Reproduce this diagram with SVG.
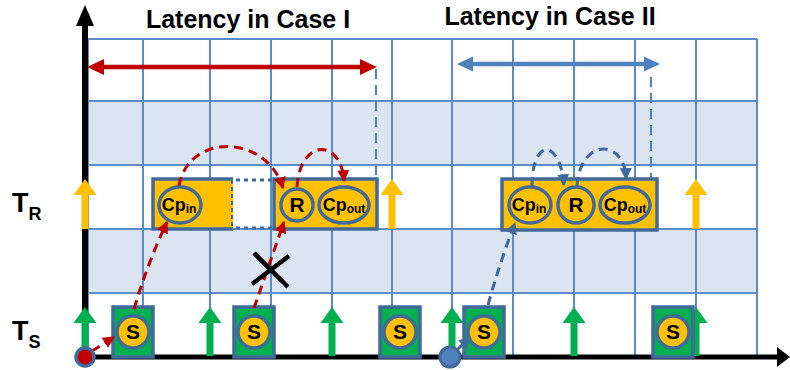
<svg xmlns="http://www.w3.org/2000/svg" width="790" height="370" viewBox="0 0 790 370">
<style>
text{font-family:"Liberation Sans",Arial,sans-serif;font-weight:bold;fill:#000}
.grid{stroke:#5b8bc8;stroke-width:2;fill:none}
.shade{fill:#dbe4f1}
.blk{fill:#ffc000;stroke:#41699a;stroke-width:3.5}
.node{fill:#ffc000;stroke:#41699a;stroke-width:3.5}
.sbox{fill:#00b050;stroke:#41699a;stroke-width:3.5}
.red{fill:none;stroke:#c00000;stroke-width:3;stroke-dasharray:9 6}
.blue{fill:none;stroke:#41699a;stroke-width:3;stroke-dasharray:9 6}
.vdash{fill:none;stroke:#4f81bd;stroke-width:2;stroke-dasharray:10 6}
.lbl{font-size:18px}
.sub{font-size:12px}
.title{font-size:25px}
.big{font-size:21px}
</style>
<defs>
<marker id="mr" viewBox="0 0 10 10" refX="9" refY="5" markerWidth="12" markerHeight="12" markerUnits="userSpaceOnUse" orient="auto"><path d="M0,0 L10,5 L0,10 Z" fill="#c00000"/></marker>
<marker id="mb" viewBox="0 0 10 10" refX="9" refY="5" markerWidth="12" markerHeight="12" markerUnits="userSpaceOnUse" orient="auto"><path d="M0,0 L10,5 L0,10 Z" fill="#41699a"/></marker>
<path id="ya" d="M0,0 L11.5,16 L3.5,16 L3.5,50 L-3.5,50 L-3.5,16 L-11.5,16 Z" fill="#ffc000"/>
<path id="ga" d="M0,0 L11.5,16 L3.5,16 L3.5,49 L-3.5,49 L-3.5,16 L-11.5,16 Z" fill="#00b050"/>
</defs>
<rect width="790" height="370" fill="#fff"/>
<g id="grid">
<rect class="shade" x="88" y="101" width="669" height="64"/>
<rect class="shade" x="88" y="229" width="669" height="64"/>
<path class="grid" d="M88,39H757M88,165H757M88,229H757M88,293H757"/>
<path class="grid" stroke-width="3.5" d="M88,101H757"/>
<path class="grid" d="M88,39V356M143,39V356M210,39V356M271,39V356M332,39V356M392,39V356M452,39V356M513,39V356M574,39V356M635,39V356M696,39V356M757,39V356"/>
</g>
<g id="axes">
<line x1="85" y1="20" x2="85" y2="358" stroke="#000" stroke-width="6"/>
<path d="M85,5 L94,26 L76,26 Z" fill="#000"/>
<line x1="82" y1="357" x2="780" y2="357" stroke="#000" stroke-width="5"/>
<path d="M790,357 L777,347 L777,367 Z" fill="#000"/>
</g>
<g id="titles">
<text class="title" x="248" y="28" text-anchor="middle">Latency in Case I</text>
<text class="title" x="550" y="25" text-anchor="middle">Latency in Case II</text>
</g>
<g id="latency1">
<line x1="100" y1="67" x2="364" y2="67" stroke="#c00000" stroke-width="4.5"/>
<path d="M87,67 L104,59 L104,75 Z M377,67 L360,59 L360,75 Z" fill="#c00000"/>
<line class="vdash" x1="376" y1="69" x2="376" y2="178"/>
</g>
<g id="latency2">
<line x1="468" y1="64" x2="648" y2="64" stroke="#4f81bd" stroke-width="4.5"/>
<path d="M457,64 L473,56.5 L473,71.5 Z M660,64 L644,56.5 L644,71.5 Z" fill="#4f81bd"/>
<line class="vdash" x1="651" y1="77" x2="651" y2="182"/>
</g>
<g id="tr-arrows">
<use href="#ya" x="85" y="179"/>
<use href="#ya" x="392" y="179"/>
<use href="#ya" x="696" y="179"/>
</g>
<g id="ts-arrows">
<use href="#ga" x="85" y="307"/>
<use href="#ga" x="210" y="307"/>
<use href="#ga" x="332" y="307"/>
<use href="#ga" x="452" y="307"/>
<use href="#ga" x="574" y="307"/>
<use href="#ga" x="696" y="307"/>
</g>
<g id="case1-left">
<rect x="153" y="179" width="80" height="50" fill="#ffc000"/>
<path d="M233,179 H153 V229 H233" fill="none" stroke="#41699a" stroke-width="3.5"/>
<line x1="232" y1="180" x2="232" y2="228" stroke="#41699a" stroke-width="2" stroke-dasharray="4 3"/>
<path d="M236,180 H273 M236,228 H273" stroke="#41699a" stroke-width="3" stroke-dasharray="4 4"/>
<ellipse class="node" cx="180" cy="205" rx="21" ry="18"/>
<text class="lbl" x="179" y="211" text-anchor="middle">Cp<tspan class="sub" dy="2">in</tspan></text>
</g>
<g id="case1-right">
<rect class="blk" x="274" y="179" width="103" height="50"/>
<circle class="node" cx="297" cy="205" r="16"/>
<text class="big" x="297" y="212" text-anchor="middle">R</text>
<ellipse class="node" cx="344" cy="205" rx="25" ry="18"/>
<text class="lbl" x="344" y="211" text-anchor="middle">Cp<tspan class="sub" dy="2">out</tspan></text>
</g>
<g id="case2-block">
<rect class="blk" x="502" y="179" width="155" height="51" stroke-width="4"/>
<ellipse class="node" cx="530" cy="205" rx="21" ry="18"/>
<text class="lbl" x="529" y="211" text-anchor="middle">Cp<tspan class="sub" dy="2">in</tspan></text>
<circle class="node" cx="576" cy="205" r="18"/>
<text class="big" x="576" y="212" text-anchor="middle">R</text>
<ellipse class="node" cx="625" cy="205" rx="25" ry="18"/>
<text class="lbl" x="625" y="211" text-anchor="middle">Cp<tspan class="sub" dy="2">out</tspan></text>
</g>
<g id="s1"><rect class="sbox" x="113" y="307" width="40" height="50"/><circle class="node" cx="133" cy="332" r="16"/><text class="big" x="133" y="339" text-anchor="middle">S</text></g>
<g id="s2"><rect class="sbox" x="234" y="307" width="40" height="50"/><circle class="node" cx="254" cy="332" r="16"/><text class="big" x="254" y="339" text-anchor="middle">S</text></g>
<g id="s3"><rect class="sbox" x="380" y="307" width="40" height="50"/><circle class="node" cx="400" cy="332" r="16"/><text class="big" x="400" y="339" text-anchor="middle">S</text></g>
<g id="s4"><rect class="sbox" x="464" y="307" width="40" height="50"/><circle class="node" cx="484" cy="332" r="16"/><text class="big" x="484" y="339" text-anchor="middle">S</text></g>
<g id="s5"><rect class="sbox" x="653" y="307" width="40" height="50"/><circle class="node" cx="673" cy="332" r="16"/><text class="big" x="673" y="339" text-anchor="middle">S</text></g>
<g id="connectors">
<path class="red" d="M92,351 L114,337" marker-end="url(#mr)"/>
<path class="red" d="M134,309 Q148,262 167,222" marker-end="url(#mr)"/>
<path class="red" d="M254,308 Q268,268 284,222" marker-end="url(#mr)"/>
<path class="red" d="M179,186 C188,133 266,133 283,188" marker-end="url(#mr)"/>
<path class="red" d="M297,187 C300,138 341,138 344,181" marker-end="url(#mr)"/>
<path class="blue" d="M457,350 L470,337" marker-end="url(#mb)"/>
<path class="blue" d="M488,305 Q500,262 515,223" marker-end="url(#mb)"/>
<path class="blue" d="M532,186 C532,138 560,138 564,185" marker-end="url(#mb)"/>
<path class="blue" d="M577,186 C580,138 625,138 626,179" marker-end="url(#mb)"/>
</g>
<g id="x-mark">
<path d="M254,253 L288,287 M252,284 L289,256" stroke="#000" stroke-width="4.5"/>
</g>
<g id="axis-labels">
<text x="12" y="212" font-size="27">T<tspan font-size="18" dy="8">R</tspan></text>
<text x="12" y="340" font-size="27">T<tspan font-size="18" dy="8">S</tspan></text>
</g>
<g id="origins">
<circle cx="85" cy="357" r="9" fill="#c00000" stroke="#41699a" stroke-width="3.5"/>
<circle cx="450" cy="357" r="10" fill="#4f81bd" stroke="#41699a" stroke-width="3"/>
</g>
</svg>
